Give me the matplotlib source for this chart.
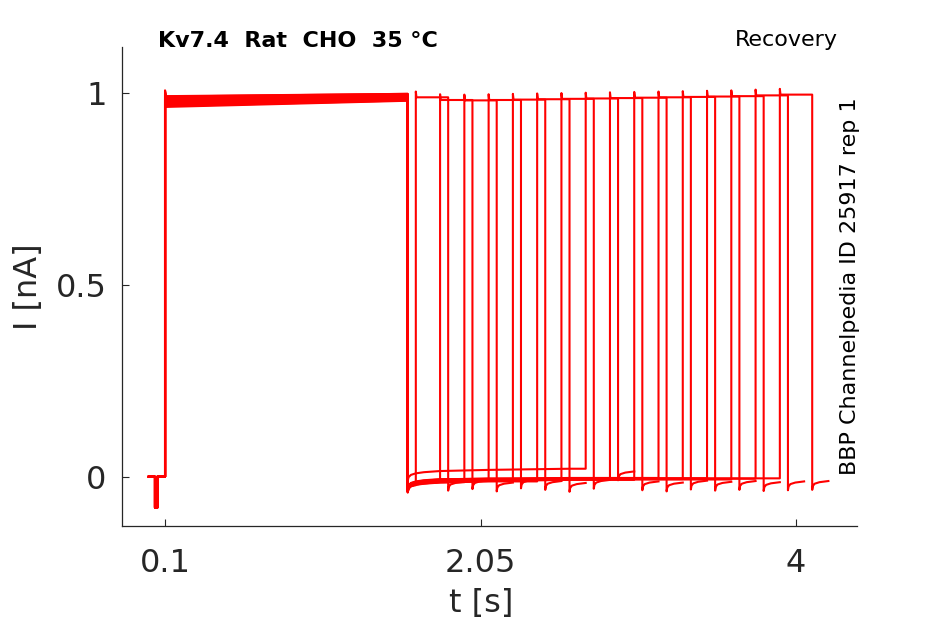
import numpy as np
import matplotlib
matplotlib.use("Agg")
import matplotlib.pyplot as plt

# ---------------------------------------------------------------------------
# protocol timing (s)
T_REC_START = 0.0
LEAK_ON, LEAK_OFF = 0.038, 0.052
LEAK_AMP = -0.08
PRE_ON, PRE_OFF = 0.1, 1.6

test_on = [1.65, 1.80, 1.95, 2.10, 2.25, 2.40, 2.55, 2.70,
           2.85, 3.00, 3.15, 3.30, 3.45, 3.60, 3.75, 3.90]
test_off = [1.85, 2.00, 2.15, 2.30, 2.45, 2.60, 2.75, 2.90,
            3.05, 3.20, 3.35, 3.50, 3.65, 3.80, 3.95, 4.10]

# per-sweep current levels (nA)
pre_start = [0.963, 0.984, 0.972, 0.990, 0.967, 0.979, 0.975, 0.987,
             0.965, 0.982, 0.970, 0.991, 0.968, 0.985, 0.977, 0.973]
pre_end = [0.979, 0.992, 0.985, 0.997, 0.981, 0.990, 0.988, 0.995,
           0.980, 0.991, 0.984, 0.997, 0.983, 0.993, 0.989, 0.986]
test_level = [0.988, 0.981, 0.980, 0.981, 0.982, 0.983, 0.984, 0.985,
              0.986, 0.987, 0.988, 0.989, 0.990, 0.991, 0.993, 0.995]
baseline = [0.000, 0.004, -0.002, 0.006, 0.002, -0.003, 0.005, 0.027,
            0.001, -0.002, 0.003, 0.000, 0.002, -0.001, 0.001, 0.002]

# recovery after the prepulse, and tail after each test pulse
recov_dt = [0.0, 0.005, 0.02, 0.05, 0.1, 0.2, 0.5, 1.0, 2.6]
recov_val = [-0.038, -0.028, -0.022, -0.018, -0.015, -0.012, -0.009, -0.006, -0.002]
tail_dt = [0.0, 0.004, 0.015, 0.045, 0.1]
tail_val = [-0.036, -0.026, -0.020, -0.016, -0.013]
OVERSHOOT = 0.015

TXT = "#262626"


def sweep(k):
    t = [T_REC_START, LEAK_ON, LEAK_ON, LEAK_OFF, LEAK_OFF, PRE_ON,
         PRE_ON, PRE_ON + 0.004, PRE_OFF]
    y = [0, 0, LEAK_AMP, LEAK_AMP, 0, 0,
         pre_start[k] + OVERSHOOT, pre_start[k], pre_end[k]]
    b = baseline[k]
    last = recov_val[0] + b
    for dt, v in zip(recov_dt, recov_val):
        if PRE_OFF + dt >= test_on[k]:
            break
        t.append(PRE_OFF + dt)
        y.append(v + b)
        last = v + b
    on, off, lvl = test_on[k], test_off[k], test_level[k]
    t += [on, on, on + 0.004, off]
    y += [last, lvl + OVERSHOOT, lvl, lvl]
    for dt, v in zip(tail_dt, tail_val):
        t.append(off + dt)
        y.append(v + b)
    return t, y


fig = plt.figure(figsize=(9.45, 6.24), dpi=100)
ax = fig.add_axes([0.1291, 0.1571, 0.7778, 0.7676])

for k in range(len(test_on)):
    t, y = sweep(k)
    ax.plot(t, y, color="red", lw=1.5)

ax.set_xlim(-0.166, 4.377)
ax.set_ylim(-0.128, 1.119)
ax.set_xticks([0.1, 2.05, 4])
ax.set_xticklabels(["0.1", "2.05", "4"])
ax.set_yticks([0, 0.5, 1])
ax.set_yticklabels(["0", "0.5", "1"])

for side in ("top", "right"):
    ax.spines[side].set_visible(False)
for side in ("left", "bottom"):
    ax.spines[side].set_color(TXT)
    ax.spines[side].set_linewidth(0.9)
ax.tick_params(direction="in", length=5, width=0.8, color=TXT,
               labelcolor=TXT, labelsize=23)
ax.tick_params(axis="x", pad=16)
ax.tick_params(axis="y", pad=11)

ax.set_xlabel("t [s]", fontsize=23, color=TXT)
ax.xaxis.set_label_coords(0.4884, -0.13)
ax.set_ylabel("I [nA]", fontsize=23, color=TXT)
ax.yaxis.set_label_coords(-0.106, 0.499)

fig.text(0.1672, 0.9247, "Kv7.4  Rat  CHO  35 °C", fontsize=16,
         fontweight="bold", va="baseline", ha="left")
fig.text(0.8868, 0.9263, "Recovery", fontsize=16, va="baseline", ha="right")
fig.text(0.8995, 0.5417, "BBP Channelpedia ID 25917 rep 1", fontsize=16,
         rotation=90, ha="center", va="center")

fig.savefig("out.png", dpi=100)
